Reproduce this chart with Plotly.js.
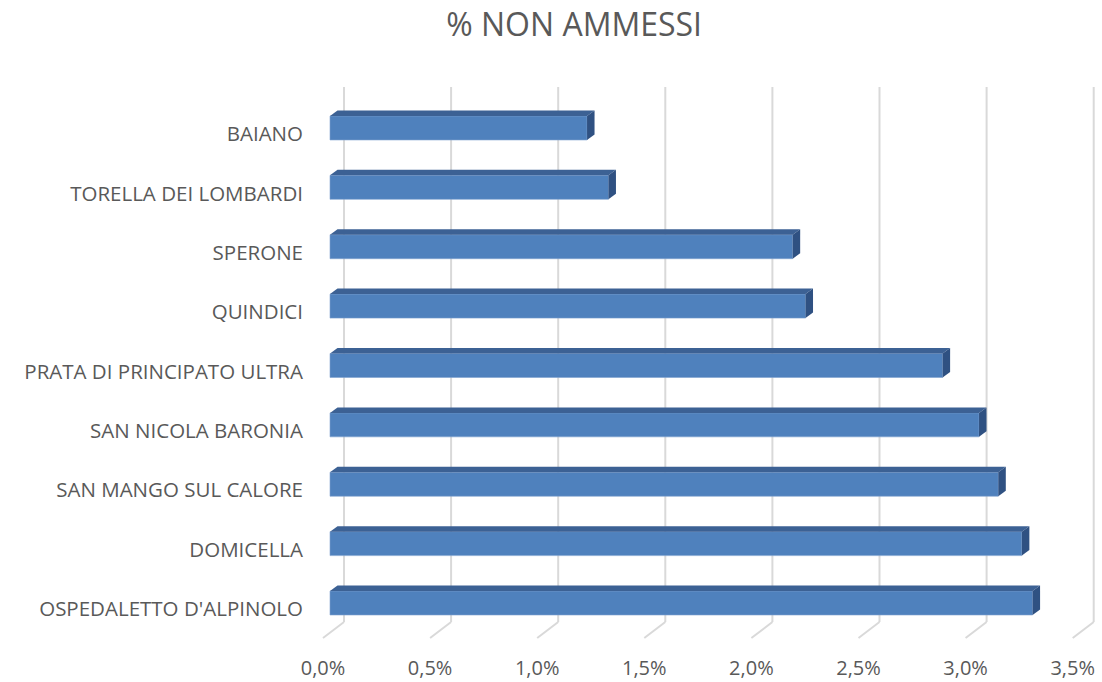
<!DOCTYPE html>
<html>
<head>
<meta charset="utf-8">
<script src="https://cdn.plot.ly/plotly-3.0.1.min.js"></script>
<style>
  html, body { margin: 0; padding: 0; background: #fff; }
  #plot { width: 1102px; height: 682px; }
</style>
</head>
<body>
<div id="plot"></div>
<script>
// comuni, dall'alto verso il basso
const comuni = [
  'BAIANO',
  'TORELLA DEI LOMBARDI',
  'SPERONE',
  'QUINDICI',
  'PRATA DI PRINCIPATO ULTRA',
  'SAN NICOLA BARONIA',
  'SAN MANGO SUL CALORE',
  'DOMICELLA',
  "OSPEDALETTO D'ALPINOLO"
];
const nonAmmessi = [0.0120, 0.0130, 0.0216, 0.0222, 0.0286, 0.0303, 0.0312, 0.0323, 0.0328];
const xTicks = [0, 0.005, 0.010, 0.015, 0.020, 0.025, 0.030, 0.035];

// finto 3D: profondita' in unita' degli assi
const pxX = 21420;          // px per unita' (1.0 = 100%)
const pxY = 59.38;          // px per categoria
const dx = 7.5 / pxX, dy = 5.5 / pxY;
const half = 0.202;
const wallBack = 14 / pxX, wallFront = -7 / pxX;
const wallTop = -0.69, wallBottom = 8.32, floorFront = 8.59;

const shapes = [];
xTicks.forEach(t => {
  shapes.push({type: 'line', xref: 'x', yref: 'y', layer: 'below',
    x0: t + wallBack, x1: t + wallBack, y0: wallTop, y1: wallBottom,
    line: {color: '#D9D9D9', width: 2}});
  shapes.push({type: 'line', xref: 'x', yref: 'y', layer: 'below',
    x0: t + wallBack, x1: t + wallFront, y0: wallBottom, y1: floorFront,
    line: {color: '#D9D9D9', width: 2}});
});
nonAmmessi.forEach((v, i) => {
  const top = i - half, bot = i + half;
  shapes.push({type: 'path', xref: 'x', yref: 'y', layer: 'above',
    path: `M 0,${top} L ${v},${top} L ${v + dx},${top - dy} L ${dx},${top - dy} Z`,
    fillcolor: '#3C6194', line: {width: 0}});
  shapes.push({type: 'path', xref: 'x', yref: 'y', layer: 'above',
    path: `M ${v},${top} L ${v + dx},${top - dy} L ${v + dx},${bot - dy} L ${v},${bot} Z`,
    fillcolor: '#2F5182', line: {width: 0}});
});

const data = [{
  type: 'bar',
  orientation: 'h',
  y: comuni,
  x: nonAmmessi,
  width: 2 * half,
  marker: {color: '#4F81BD', line: {color: '#7FA3D0', width: 0.6}},
  hoverinfo: 'y+x'
}];

const layout = {
  width: 1102,
  height: 682,
  margin: {l: 310, r: 2, t: 80, b: 42},
  paper_bgcolor: '#ffffff',
  plot_bgcolor: '#ffffff',
  separators: ',.',
  showlegend: false,
  font: {family: 'Open Sans, sans-serif', color: '#595959'},
  title: {
    text: '% NON AMMESSI',
    x: 0.521, xanchor: 'center', xref: 'container',
    y: 0.963, yanchor: 'middle', yref: 'container',
    font: {family: 'Open Sans, sans-serif', size: 32, color: '#595959'}
  },
  xaxis: {
    range: [-20 / pxX, 790 / pxX - 20 / pxX],
    tickvals: xTicks,
    tickformat: '.1%',
    showgrid: false,
    zeroline: false,
    showline: false,
    ticks: '',
    ticklabelshift: -7,
    ticklabelstandoff: 14,
    tickfont: {size: 20, color: '#595959'}
  },
  yaxis: {
    type: 'category',
    categoryorder: 'array',
    categoryarray: comuni,
    range: [8.623, -0.808],
    showgrid: false,
    zeroline: false,
    showline: false,
    ticks: '',
    ticklabelstandoff: 6,
    ticklabelshift: -6,
    tickfont: {size: 20.5, color: '#595959'}
  },
  shapes: shapes
};

Plotly.newPlot('plot', data, layout, {staticPlot: true});
</script>
</body>
</html>
